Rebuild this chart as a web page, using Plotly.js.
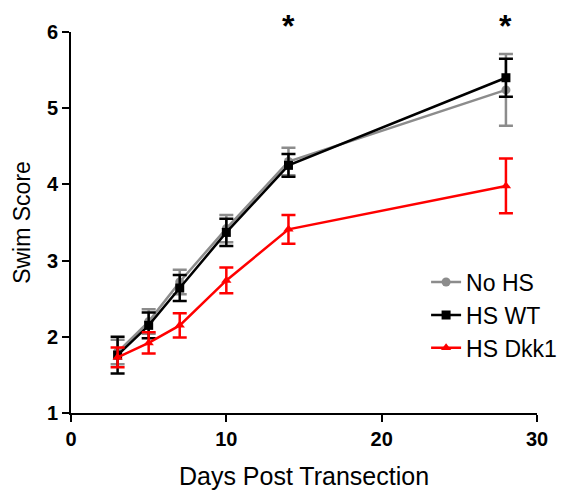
<!DOCTYPE html>
<html><head><meta charset="utf-8">
<script src="https://cdn.plot.ly/plotly-3.0.1.min.js"></script>
<style>html,body{margin:0;padding:0;background:#fff}#chart{width:566px;height:497px}</style>
</head><body><div id="chart"></div>
<script>
const days = [3, 5, 7, 10, 14, 28];
const noHS = [1.80, 2.20, 2.72, 3.42, 4.30, 5.24];
const noHSErr = [0.16, 0.16, 0.16, 0.18, 0.18, 0.47];
const hsWT = [1.76, 2.15, 2.64, 3.37, 4.25, 5.40];
const hsWTErr = [0.24, 0.17, 0.17, 0.18, 0.15, 0.25];
const hsDkk1 = [1.73, 1.92, 2.15, 2.74, 3.41, 3.98];
const hsDkk1Err = [0.13, 0.14, 0.16, 0.17, 0.19, 0.36];
const seriesNames = ['No HS', 'HS WT', 'HS Dkk1'];
const sigDays = [14, 28];
const sigLabel = '*';

const FONT = 'Liberation Sans, Arial, Helvetica, sans-serif';
function tr(name, y, err, color, symbol, size) {
  return {
    x: days, y: y, name: name, type: 'scatter', mode: 'lines+markers',
    line: {color: color, width: 2.5},
    marker: {color: color, symbol: symbol, size: size},
    error_y: {type: 'data', array: err, visible: true, color: color, thickness: 2.5, width: 7},
    cliponaxis: false
  };
}
const data = [
  tr(seriesNames[0], noHS, noHSErr, '#8c8c8c', 'circle', 9),
  tr(seriesNames[1], hsWT, hsWTErr, '#000000', 'square', 9),
  tr(seriesNames[2], hsDkk1, hsDkk1Err, '#ff0000', 'triangle-up', 9)
];
const annotations = sigDays.map(d => ({
  x: d, y: 1.016, xref: 'x', yref: 'paper', yanchor: 'middle', text: '<b>' + sigLabel + '</b>', showarrow: false,
  font: {family: FONT, size: 32, color: '#000'}
}));
const layout = {
  width: 566, height: 497,
  margin: {l: 71, r: 29, t: 32, b: 84, autoexpand: false},
  paper_bgcolor: '#fff', plot_bgcolor: '#fff',
  showlegend: true,
  legend: {x: 0.762, y: 0.4, xanchor: 'left', yanchor: 'top',
    font: {family: FONT, size: 23, color: '#000'},
    bgcolor: 'rgba(0,0,0,0)', tracegroupgap: 0, itemwidth: 30},
  xaxis: {
    range: [0, 30], tickvals: [0, 10, 20, 30], showgrid: false, zeroline: false, automargin: false,
    showline: true, linecolor: '#000', linewidth: 2, ticks: 'outside', ticklen: 7, tickwidth: 2, tickcolor: '#000',
    tickfont: {family: FONT, size: 20, color: '#000', weight: 'bold'},
    title: {text: 'Days Post Transection', font: {family: FONT, size: 25, color: '#000'}, standoff: 18}
  },
  yaxis: {
    range: [1, 6], tickvals: [1, 2, 3, 4, 5, 6], showgrid: false, zeroline: false, automargin: false,
    showline: true, linecolor: '#000', linewidth: 2, ticks: 'outside', ticklen: 7, tickwidth: 2, tickcolor: '#000',
    tickfont: {family: FONT, size: 20, color: '#000', weight: 'bold'},
    title: {text: 'Swim Score', font: {family: FONT, size: 23, color: '#000'}, standoff: 10}
  },
  annotations: annotations
};
Plotly.newPlot('chart', data, layout, {displayModeBar: false, staticPlot: true});
</script></body></html>
